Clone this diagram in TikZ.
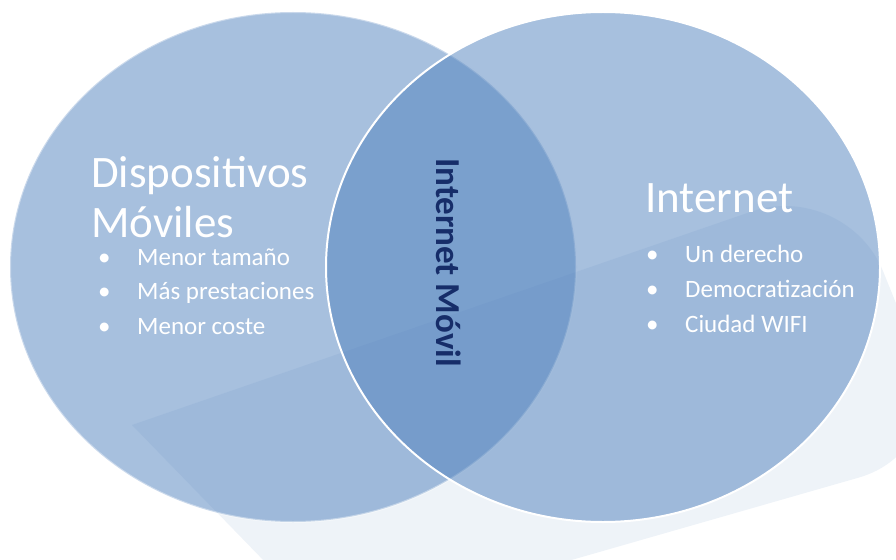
\documentclass[tikz,border=0pt]{standalone}
\usepackage{fontspec}
\setmainfont{Carlito}
\usetikzlibrary{shapes.geometric}

\definecolor{vennblue}{RGB}{79,129,189}
\definecolor{backtint}{RGB}{238,243,248}
\definecolor{navy}{RGB}{22,45,105}

\begin{document}
\begin{tikzpicture}[x=1pt, y=-1pt,
    venn/.style={ellipse, fill=vennblue, fill opacity=0.5, draw=white, line width=2pt, inner sep=0pt},
    title/.style={anchor=base west, inner sep=0pt, text=white, font=\fontsize{45}{48}\selectfont},
    item/.style={anchor=base west, inner sep=0pt, text=white, font=\fontsize{25}{28}\selectfont},
    core/.style={anchor=base west, inner sep=0pt, rotate=-90, text=navy, font=\bfseries\fontsize{35}{38}\selectfont}]
    \useasboundingbox (0,0) rectangle (896,559);

    % faint backdrop
    \begin{scope}
      \clip (0,0) rectangle (896,559);
      \fill[backtint] (132,425) [rounded corners=100pt] -- (846,179) -- (955,450) -- (432,600) [sharp corners] -- (302,600) -- cycle;
    \end{scope}

    \node (disp) [venn, draw opacity=0.4, minimum width=566pt, minimum height=510pt] at (293,267) {};
    \node (inet) [venn, minimum width=554pt, minimum height=510pt] at (603,267) {};

    \node (d1) [title] at (91,187) {Dispositivos};
    \node (d2) [title] at (91,237) {Móviles};
    \node (da) [item] at (98,265) {\makebox[39pt][l]{\textbullet}Menor tamaño};
    \node (db) [item] at (98,299) {\makebox[39pt][l]{\textbullet}Más prestaciones};
    \node (dc) [item] at (98,334) {\makebox[39pt][l]{\textbullet}Menor coste};

    \node (i1) [title] at (645,212) {Internet};
    \node (ia) [item] at (646,262) {\makebox[39pt][l]{\textbullet}Un derecho};
    \node (ib) [item] at (646,297) {\makebox[39pt][l]{\textbullet}Democratización};
    \node (ic) [item] at (646,332) {\makebox[39pt][l]{\textbullet}Ciudad WIFI};

    \node (im) [core] at (436,158) {Internet Móvil};
  \end{tikzpicture}
\end{document}
